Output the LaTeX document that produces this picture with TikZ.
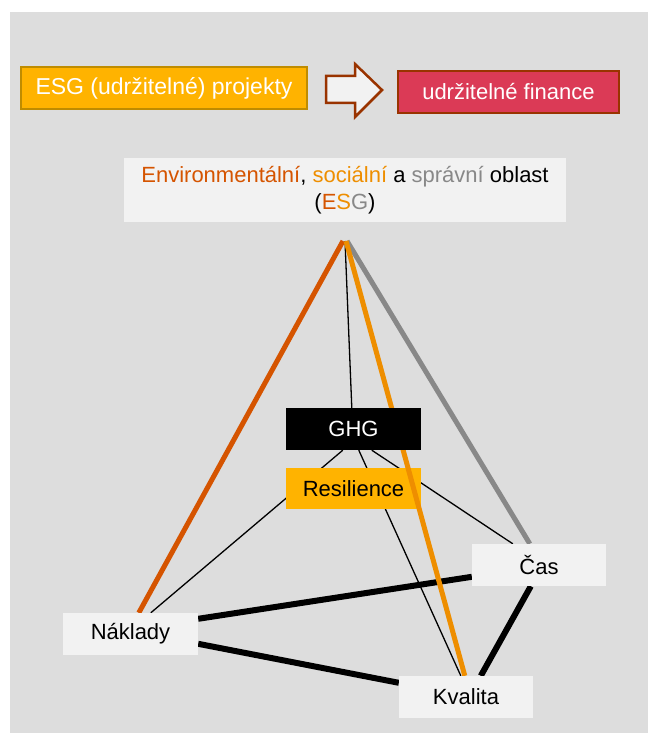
\documentclass[tikz,border=0pt]{standalone}
\usepackage{fontspec}
\setmainfont{Liberation Sans}
\usetikzlibrary{calc}
\definecolor{bggray}{RGB}{221,221,221}
\definecolor{boxlight}{RGB}{242,242,242}
\definecolor{esgfill}{RGB}{255,179,0}
\definecolor{esgborder}{RGB}{191,140,0}
\definecolor{finfill}{RGB}{219,58,86}
\definecolor{brownborder}{RGB}{153,51,0}
\definecolor{envcol}{RGB}{213,84,0}
\definecolor{soccol}{RGB}{238,142,0}
\definecolor{govcol}{RGB}{136,136,136}
\tikzset{
  basebox/.style={rectangle, inner sep=0pt, font=\fontsize{22}{26}\selectfont},
  lightbox/.style={basebox, fill=boxlight, minimum width=135pt, minimum height=42pt},
  thinline/.style={black, line width=1.3pt},
  thickline/.style={black, line width=6pt},
  esgline/.style={line width=5pt},
}
\begin{document}
\begin{tikzpicture}[x=1pt,y=-1pt]
\useasboundingbox (0,0) rectangle (648,733);
\fill[bggray] (10,12) rectangle (648,733);

% top row
\node[basebox, fill=esgfill, draw=esgborder, line width=2.5pt, text=white,
      minimum width=286pt, minimum height=42pt, font=\fontsize{23}{27}\selectfont] (esg) at (164,88) {ESG (udržitelné) projekty};
\node[basebox, fill=finfill, draw=brownborder, line width=2.5pt, text=white,
      minimum width=221pt, minimum height=42pt] (fin) at (508.5,92) {udržitelné finance};
\draw[brownborder, fill=boxlight, line width=2.5pt, line join=miter]
  (326,76) -- (355,76) -- (355,64) -- (382,90) -- (355,117) -- (355,103) -- (326,103) -- cycle;

% title
\node[basebox, fill=boxlight, minimum width=442pt, minimum height=64pt, align=center,
      font=\fontsize{22}{27.5}\selectfont] (title) at (345,190)
  {\textcolor{envcol}{Environmentální}, \textcolor{soccol}{sociální} a \textcolor{govcol}{správní} oblast\\
   (\textcolor{envcol}{E}\textcolor{soccol}{S}\textcolor{govcol}{G})};

\coordinate (apex) at (345,241);

% box positions (drawn later)
\path (353.5,429) node[basebox, minimum width=135pt, minimum height=42pt] (ghgp) {};
\path (353.5,488.5) node[basebox, minimum width=135pt, minimum height=41pt] (resp) {};
\path (130.5,634) node[lightbox] (nakp) {};
\path (539,565) node[lightbox, minimum width=134pt] (casp) {};
\path (466,697) node[lightbox, minimum width=134pt] (kvap) {};

% thin lines
\draw[thinline] (apex) -- ($(ghgp.north west)+(66,0)$);
\draw[thinline] ($(ghgp.south west)+(57,0)$) -- ($(nakp.north west)+(88,0)$);
\draw[thinline] ($(ghgp.south west)+(73,0)$) -- ($(kvap.north west)+(62,0)$);
\draw[thinline] ($(ghgp.south west)+(86,0)$) -- ($(casp.north west)+(41,0)$);

% resilience
\node[basebox, fill=esgfill, minimum width=135pt, minimum height=41pt] (res) at (resp) {Resilience};

% thick black triangle
\draw[thickline] ($(nakp.north east)+(0,6)$) -- ($(casp.north west)+(0,33)$);
\draw[thickline] ($(nakp.north east)+(0,31)$) -- ($(kvap.north west)+(0,7)$);
\draw[thickline] ($(casp.south west)+(59,0)$) -- ($(kvap.north west)+(82,0)$);

% ESG lines
\draw[esgline, envcol] ($(apex)+(-2,0)$) -- ($(nakp.north west)+(76,0)$);
\draw[esgline, govcol] ($(apex)+(2,0)$) -- ($(casp.north west)+(58,0)$);
\draw[esgline, soccol] ($(apex)+(1,0)$) -- ($(kvap.north west)+(66,0)$);

% boxes on top
\node[basebox, fill=black, text=white, minimum width=135pt, minimum height=42pt] (ghg) at (ghgp) {GHG};
\node[lightbox] (nak) at (nakp) {Náklady};
\node[lightbox, minimum width=134pt] (cas) at (casp) {Čas};
\node[lightbox, minimum width=134pt] (kva) at (kvap) {Kvalita};
\end{tikzpicture}
\end{document}
